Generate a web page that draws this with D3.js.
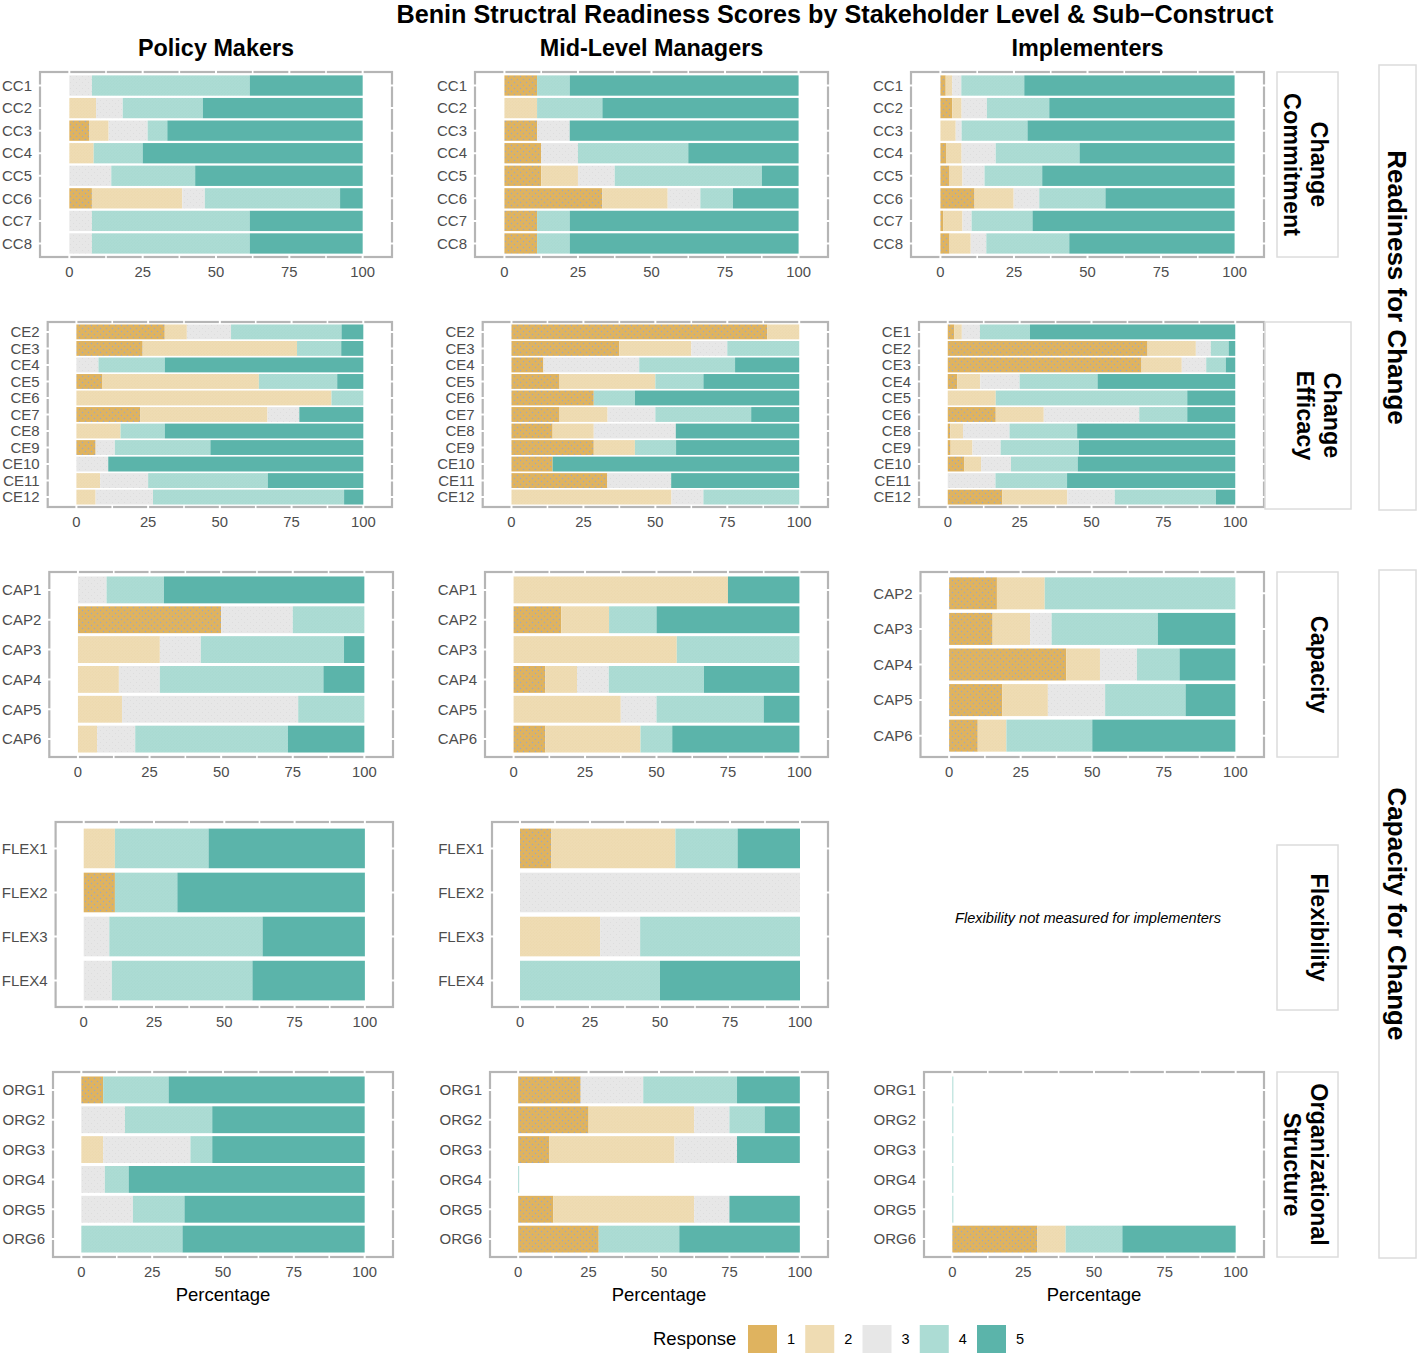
<!DOCTYPE html>
<html><head><meta charset="utf-8">
<script src="https://cdn.jsdelivr.net/npm/d3@7"></script>
<style>
html,body{margin:0;padding:0;background:#fff;}
svg{display:block;font-family:"Liberation Sans",Arial,Helvetica,sans-serif;}
</style></head>
<body><svg id="chart" width="1418" height="1354"></svg>
<script>
// ---------------- DATA ----------------
const levels = ["1", "2", "3", "4", "5"];
const columnTitles = ["Policy Makers", "Mid-Level Managers", "Implementers"];
const chartTitle = "Benin Structral Readiness Scores by Stakeholder Level & Sub\u2212Construct";
const tickValues = [0, 25, 50, 75, 100];

// Change Commitment
const ccItems = ["CC1", "CC2", "CC3", "CC4", "CC5", "CC6", "CC7", "CC8"];
const ccPM = [[0,0,7.7,53.8,38.5],[0,9.1,9.1,27.3,54.5],[6.7,6.7,13.3,6.7,66.6],[0,8.3,0,16.7,75],
              [0,0,14.3,28.6,57.1],[7.7,30.8,7.7,46.1,7.7],[0,0,7.7,53.8,38.5],[0,0,7.7,53.8,38.5]];
const ccMLM = [[11.1,0,0,11.1,77.8],[0,11.1,0,22.2,66.7],[11.1,0,11.1,0,77.8],[12.5,0,12.5,37.5,37.5],
               [12.5,12.5,12.5,50,12.5],[33.3,22.2,11.1,11.1,22.3],[11.1,0,0,11.1,77.8],[11.1,0,0,11.1,77.8]];
const ccIMP = [[1.8,2.2,3.1,21.4,71.5],[4.0,3.2,8.6,21.2,63.0],[0,5.2,2.0,22.4,70.4],[1.9,5.3,11.6,28.5,52.7],
               [3.1,4.4,7.5,19.6,65.4],[11.6,13.3,8.7,22.5,43.9],[0.9,6.6,3.1,20.7,68.7],[3.1,7.2,5.3,28.2,56.2]];

// Change Efficacy
const ceItemsPM = ["CE2","CE3","CE4","CE5","CE6","CE7","CE8","CE9","CE10","CE11","CE12"];
const ceItemsMLM = ["CE2","CE3","CE4","CE5","CE6","CE7","CE8","CE9","CE10","CE11","CE12"];
const ceItemsIMP = ["CE1","CE2","CE3","CE4","CE5","CE6","CE8","CE9","CE10","CE11","CE12"];
const cePM = [[30.8,7.7,15.4,38.5,7.6],[23.1,53.8,0,15.4,7.7],[0,0,7.7,23.1,69.2],[9.1,54.5,0,27.3,9.1],
              [0,88.9,0,11.1,0],[22.2,44.4,11.1,0,22.3],[0,15.4,0,15.4,69.2],[6.7,0,6.7,33.3,53.3],
              [0,0,11.1,0,88.9],[0,8.3,16.7,41.7,33.3],[0,6.7,20,66.6,6.7]];
const ceMLM = [[88.9,11.1,0,0,0],[37.5,25,12.5,25,0],[11.1,0,33.3,33.3,22.3],[16.7,33.3,0,16.7,33.3],
               [28.6,0,0,14.3,57.1],[16.7,16.7,16.6,33.3,16.7],[14.3,14.3,28.5,0,42.9],[28.6,14.3,0,14.3,42.8],
               [14.3,0,0,0,85.7],[33.3,0,22.2,0,44.5],[0,55.6,11.1,33.3,0]];
const ceIMP = [[2.3,2.6,6.3,17.4,71.4],[69.5,16.8,5.2,6.2,2.3],[67.4,14.0,8.5,6.8,3.3],[3.3,8.0,13.7,27.1,47.9],
               [0,16.7,0,66.6,16.7],[16.7,16.7,33.2,16.7,16.7],[0.9,4.4,16.2,23.5,55.0],[1.0,7.6,9.8,27.2,54.4],
               [5.8,5.8,10.4,23.2,54.8],[0,0,16.6,24.9,58.5],[19.0,22.6,16.5,35.2,6.7]];

// Capacity
const capItemsPM = ["CAP1","CAP2","CAP3","CAP4","CAP5","CAP6"];
const capItemsMLM = ["CAP1","CAP2","CAP3","CAP4","CAP5","CAP6"];
const capItemsIMP = ["CAP2","CAP3","CAP4","CAP5","CAP6"];
const capPM = [[0,0,10,20,70],[50,0,25,25,0],[0,28.6,14.3,50,7.1],[0,14.3,14.3,57.1,14.3],
               [0,15.4,61.5,23.1,0],[0,6.7,13.3,53.3,26.7]];
const capMLM = [[0,75,0,0,25],[16.7,16.7,0,16.6,50],[0,57.1,0,42.9,0],[11.1,11.1,11.1,33.3,33.4],
                [0,37.5,12.5,37.5,12.5],[11.1,33.3,0,11.1,44.5]];
const capIMP = [[16.7,16.7,0,66.6,0],[15.2,13.1,7.5,37.1,27.1],[40.9,11.8,12.9,14.9,19.5],
                [18.6,15.9,20.0,28.1,17.4],[10,10,0,30,50]];

// Flexibility (not measured for implementers)
const flexItems = ["FLEX1","FLEX2","FLEX3","FLEX4"];
const flexPM = [[0,11.1,0,33.3,55.6],[11.1,0,0,22.2,66.7],[0,0,9.1,54.5,36.4],[0,0,10,50,40]];
const flexMLM = [[11.1,44.4,0,22.2,22.3],[0,0,100,0,0],[0,28.6,14.3,57.1,0],[0,0,0,50,50]];
const flexNote = "Flexibility not measured for implementers";

// Organizational Structure
const orgItems = ["ORG1","ORG2","ORG3","ORG4","ORG5","ORG6"];
const orgPM = [[7.7,0,0,23.1,69.2],[0,0,15.4,30.8,53.8],[0,7.7,30.8,7.7,53.8],[0,0,8.3,8.4,83.3],
               [0,0,18.2,18.2,63.6],[0,0,0,35.7,64.3]];
const orgMLM = [[22.2,0,22.2,33.3,22.3],[25,37.5,12.5,12.5,12.5],[11.1,44.4,22.2,0,22.3],[0,0,0,0,0],
                [12.5,50,12.5,0,25],[28.6,0,0,28.6,42.8]];
const orgIMP = [[0,0,0,0,0],[0,0,0,0,0],[0,0,0,0,0],[0,0,0,0,0],[0,0,0,0,0],[30,10,0,20,40]];

const subConstructs = [["Change","Commitment"],["Change","Efficacy"],["Capacity"],["Flexibility"],["Organizational","Structure"]];
const constructs = ["Readiness for Change", "Capacity for Change"];
const xTitle = "Percentage";
const legendTitle = "Response";

// ---------------- STYLE / LAYOUT ----------------
const colors = {"1":"#dfb35f","2":"#efdcb3","3":"#e7e7e7","4":"#acdcd4","5":"#5bb4aa"};
const textCol = "#4d4d4d";

const rowsLayout = [
  {top:72,  bottom:257,  panels:[[40,392],[475,828],[911,1264]],
   data:[[ccItems,ccPM],[ccItems,ccMLM],[ccItems,ccIMP]],
   strip:{x0:1277,x1:1338,y0:72,y1:257,tx:1306}},
  {top:322, bottom:507,  panels:[[47.7,392],[482.7,828],[919,1264]],
   data:[[ceItemsPM,cePM],[ceItemsMLM,ceMLM],[ceItemsIMP,ceIMP]],
   strip:{x0:1265,x1:1351,y0:322,y1:509,tx:1319}},
  {top:572, bottom:757,  panels:[[49.3,393],[485,828],[920.5,1264]],
   data:[[capItemsPM,capPM],[capItemsMLM,capMLM],[capItemsIMP,capIMP]],
   strip:{x0:1277,x1:1338,y0:572,y1:757,tx:1319}},
  {top:822, bottom:1007, panels:[[55.6,393],[492,828],null],
   data:[[flexItems,flexPM],[flexItems,flexMLM],null],
   strip:{x0:1277,x1:1338,y0:845,y1:1010,tx:1319}},
  {top:1072,bottom:1257, panels:[[53,393],[490,828],[924,1264]],
   data:[[orgItems,orgPM],[orgItems,orgMLM],[orgItems,orgIMP]],
   strip:{x0:1277,x1:1338,y0:1072,y1:1257,tx:1306}}
];
const bigStrips = [{x0:1379,x1:1416,y0:65,y1:510},{x0:1379,x1:1416,y0:570,y1:1258}];

const svg = d3.select("#chart");

// patterns
const defs = svg.append("defs");
function addPattern(id, bg, dot, r, size) {
  const p = defs.append("pattern").attr("id", id).attr("patternUnits","userSpaceOnUse")
    .attr("width", size).attr("height", size);
  p.append("rect").attr("width", size).attr("height", size).attr("fill", bg);
  if (dot) {
    p.append("circle").attr("cx", size*0.25).attr("cy", size*0.25).attr("r", r).attr("fill", dot);
    p.append("circle").attr("cx", size*0.75).attr("cy", size*0.75).attr("r", r).attr("fill", dot);
  }
}
addPattern("pat1", colors["1"], "#9aa8c4", 0.7, 6);
addPattern("pat2", colors["2"], "#ebd6a8", 0.45, 3);
addPattern("pat3", colors["3"], "#dadada", 0.5, 6);
addPattern("pat4", colors["4"], "#a4d7ce", 0.45, 3);
addPattern("pat5", colors["5"], null, 0, 4);
const fillFor = k => `url(#pat${k})`;

// title
svg.append("text").attr("x", 835).attr("y", 23).attr("text-anchor","middle")
  .attr("font-size", 25.2).attr("font-weight","bold").attr("fill","#000").text(chartTitle);

// column titles
rowsLayout[0].panels.forEach((p, i) => {
  svg.append("text").attr("x", (p[0]+p[1])/2).attr("y", 55.5).attr("text-anchor","middle")
    .attr("font-size", 23.4).attr("font-weight","bold").attr("fill","#000").text(columnTitles[i]);
});

function drawPanel(row, col) {
  const lay = rowsLayout[row];
  const [x0, x1] = lay.panels[col];
  const [items, values] = lay.data[col];
  const g = svg.append("g");
  const x = d3.scaleLinear().domain([-10, 110]).range([x0, x1]);
  const y = d3.scaleBand().domain(items).range([lay.top, lay.bottom]).paddingInner(0.1).paddingOuter(0.15);

  // border
  g.append("rect").attr("x", x0).attr("y", lay.top).attr("width", x1-x0).attr("height", lay.bottom-lay.top)
    .attr("fill","#fff").attr("stroke","#b5b5b5").attr("stroke-width", 2.2);
  // white grid lines (visible where they cross the border)
  const gridX = d3.range(0, 100.01, 12.5);
  g.selectAll(".gx").data(gridX).join("line")
    .attr("x1", d => x(d)).attr("x2", d => x(d)).attr("y1", lay.top-2).attr("y2", lay.bottom+2)
    .attr("stroke","#fff").attr("stroke-width", d => d % 25 === 0 ? 2 : 1.6);
  g.selectAll(".gy").data(items).join("line")
    .attr("y1", d => y(d)+y.bandwidth()/2).attr("y2", d => y(d)+y.bandwidth()/2)
    .attr("x1", x0-2).attr("x2", x1+2).attr("stroke","#fff").attr("stroke-width", 2);

  // stacked bars
  const rows = items.map((it, i) => {
    const o = {item: it};
    levels.forEach((l, j) => o[l] = values[i][j]);
    return o;
  });
  const stack = d3.stack().keys(levels)(rows);
  stack.forEach(s => {
    g.selectAll(null).data(s.filter(d => d[1]-d[0] > 0)).join("rect")
      .attr("x", d => x(d[0])).attr("width", d => x(d[1]) - x(d[0]))
      .attr("y", d => y(d.data.item)).attr("height", y.bandwidth())
      .attr("fill", fillFor(s.key));
  });
  // empty items: faint zero line
  g.selectAll(null).data(rows.filter(r => levels.every(l => r[l] === 0))).join("rect")
    .attr("x", x(0)).attr("width", 1).attr("y", d => y(d.item)).attr("height", y.bandwidth())
    .attr("fill", colors["4"]);

  // y labels
  g.selectAll(".yl").data(items).join("text")
    .attr("x", x0 - 8).attr("y", d => y(d)+y.bandwidth()/2).attr("dy","0.35em")
    .attr("text-anchor","end").attr("font-size", 15).attr("fill", textCol).text(d => d);
  // x tick labels
  g.selectAll(".xl").data(tickValues).join("text")
    .attr("x", d => x(d)).attr("y", lay.bottom + 19.5).attr("text-anchor","middle")
    .attr("font-size", 14.8).attr("fill", textCol).text(d => d);

  if (row === rowsLayout.length - 1) {
    g.append("text").attr("x", (x(0)+x(100))/2).attr("y", lay.bottom + 44).attr("text-anchor","middle")
      .attr("font-size", 18.5).attr("fill","#000").text(xTitle);
  }
}

rowsLayout.forEach((lay, r) => {
  lay.panels.forEach((p, c) => { if (p) drawPanel(r, c); });
  // strip
  const s = lay.strip;
  svg.append("rect").attr("x", s.x0).attr("y", s.y0).attr("width", s.x1-s.x0).attr("height", s.y1-s.y0)
    .attr("fill","#fff").attr("stroke","#dcdcdc").attr("stroke-width", 1.5);
  const lines = subConstructs[r];
  const t = svg.append("text").attr("transform", `translate(${s.tx},${(s.y0+s.y1)/2}) rotate(90)`)
    .attr("text-anchor","middle").attr("font-size", 23.4).attr("font-weight","bold").attr("fill","#000");
  lines.forEach((ln, i) => {
    t.append("tspan").attr("x", 0).attr("y", (i - (lines.length-1)/2) * 27).attr("dy","0.35em").text(ln);
  });
});

// flexibility note
{
  const lay = rowsLayout[3];
  svg.append("text").attr("x", 1088).attr("y", (lay.top+lay.bottom)/2 + 3).attr("dy","0.35em")
    .attr("text-anchor","middle").attr("font-size", 14.6).attr("font-style","italic").attr("fill","#000")
    .text(flexNote);
}

// big strips
bigStrips.forEach((s, i) => {
  svg.append("rect").attr("x", s.x0).attr("y", s.y0).attr("width", s.x1-s.x0).attr("height", s.y1-s.y0)
    .attr("fill","#fff").attr("stroke","#dcdcdc").attr("stroke-width", 1.5);
  svg.append("text").attr("transform", `translate(${(s.x0+s.x1)/2},${(s.y0+s.y1)/2}) rotate(90)`)
    .attr("text-anchor","middle").attr("dy","0.35em").attr("font-size", 26).attr("font-weight","bold")
    .attr("fill","#000").text(constructs[i]);
});

// legend
{
  const lg = svg.append("g");
  lg.append("text").attr("x", 653).attr("y", 1339).attr("dy","0.35em").attr("font-size", 18.5)
    .attr("fill","#000").text(legendTitle);
  const lx = d3.scalePoint().domain(levels).range([748, 977]);
  lg.selectAll(".k").data(levels).join("rect")
    .attr("x", d => lx(d)).attr("y", 1325).attr("width", 29).attr("height", 28).attr("fill", d => colors[d]);
  lg.selectAll(".kl").data(levels).join("text")
    .attr("x", d => lx(d) + 39).attr("y", 1339).attr("dy","0.35em").attr("font-size", 14.5)
    .attr("fill","#000").text(d => d);
}
</script></body></html>
